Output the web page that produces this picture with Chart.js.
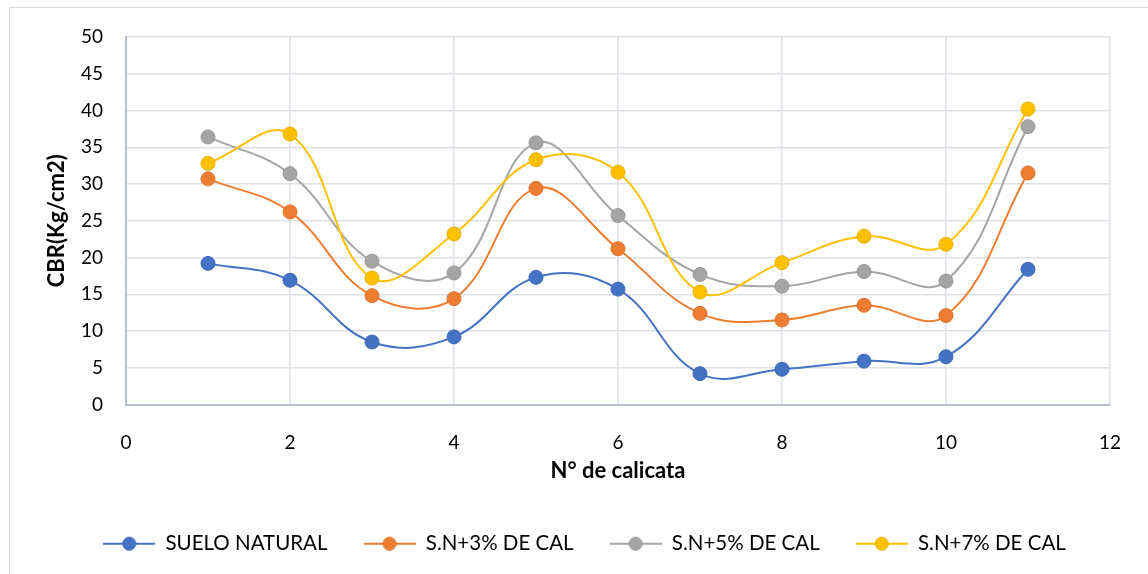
<!DOCTYPE html>
<html>
<head>
<meta charset="utf-8">
<script src="https://cdn.jsdelivr.net/npm/chart.js@4.4.1/dist/chart.umd.min.js"></script>
<style>
  html, body { margin: 0; padding: 0; background: #ffffff; }
  #wrap { width: 1148px; height: 574px; position: relative; }
</style>
</head>
<body>
<div id="wrap"><canvas id="c" width="1148" height="574"></canvas></div>
<script>
// N° de calicata
const calicatas = [1, 2, 3, 4, 5, 6, 7, 8, 9, 10, 11];

// CBR (Kg/cm2) per mixture
const sueloNatural = [19.2, 16.9, 8.5, 9.2, 17.3, 15.7, 4.2, 4.8, 5.9, 6.5, 18.4];
const sn3Cal       = [30.7, 26.2, 14.8, 14.4, 29.4, 21.2, 12.4, 11.5, 13.5, 12.1, 31.5];
const sn5Cal       = [36.4, 31.4, 19.5, 17.9, 35.6, 25.7, 17.7, 16.1, 18.1, 16.8, 37.8];
const sn7Cal       = [32.8, 36.8, 17.2, 23.2, 33.3, 31.6, 15.3, 19.3, 22.9, 21.8, 40.2];

const seriesNames  = ['SUELO NATURAL', 'S.N+3% DE CAL', 'S.N+5% DE CAL', 'S.N+7% DE CAL'];
const seriesValues = [sueloNatural, sn3Cal, sn5Cal, sn7Cal];
const seriesColors = ['#4472C4', '#ED7D31', '#A5A5A5', '#FFC000'];
const seriesBorders = ['#3F69B5', '#DB732D', '#989898', '#EBB100'];

const xTicks = [0, 2, 4, 6, 8, 10, 12];
const yTicks = [0, 5, 10, 15, 20, 25, 30, 35, 40, 45, 50];

const FONT = 'Lato, "Open Sans", sans-serif';

// legend swatch: short line with a marker in the middle
function legendSwatch(color, border) {
  const cv = document.createElement('canvas');
  cv.width = 52; cv.height = 16;
  const g = cv.getContext('2d');
  g.strokeStyle = color; g.lineWidth = 2;
  g.beginPath(); g.moveTo(0, 8); g.lineTo(52, 8); g.stroke();
  g.fillStyle = color; g.strokeStyle = border; g.lineWidth = 1;
  g.beginPath(); g.arc(26, 8, 6.5, 0, Math.PI * 2); g.fill(); g.stroke();
  return cv;
}

const datasets = seriesNames.map((name, i) => ({
  label: name,
  data: calicatas.map((x, k) => ({ x: x, y: seriesValues[i][k] })),
  showLine: true,
  borderColor: seriesColors[i],
  backgroundColor: seriesColors[i],
  borderWidth: 2,
  pointRadius: 7,
  pointHoverRadius: 7,
  pointBackgroundColor: seriesColors[i],
  pointBorderColor: seriesBorders[i],
  pointBorderWidth: 1,
  pointStyle: 'circle',
  tension: 0.4,
  order: seriesNames.length - i,
  legendSwatch: legendSwatch(seriesColors[i], seriesBorders[i])
}));

// light frame around the chart object
const framePlugin = {
  id: 'frame',
  beforeDraw(chart) {
    const ctx = chart.ctx;
    ctx.save();
    ctx.fillStyle = '#ffffff';
    ctx.fillRect(0, 0, chart.width, chart.height);
    ctx.strokeStyle = '#d9d9d9';
    ctx.lineWidth = 1;
    ctx.strokeRect(9.5, 7.5, 1300, 700);
    ctx.restore();
  }
};

new Chart(document.getElementById('c'), {
  type: 'scatter',
  data: { datasets: datasets },
  plugins: [framePlugin],
  options: {
    responsive: false,
    animation: false,
    events: [],
    layout: { padding: { left: 21, right: 0, top: 37, bottom: 10 } },
    plugins: {
      tooltip: { enabled: false },
      legend: {
        position: 'bottom',
        labels: {
          usePointStyle: true,
          pointStyleWidth: 52,
          padding: 36,
          color: '#000000',
          font: { family: FONT, size: 20.5 },
          sort: (a, b) => a.datasetIndex - b.datasetIndex,
          generateLabels(chart) {
            return chart.data.datasets.map((ds, i) => ({
              text: ds.label,
              datasetIndex: i,
              fillStyle: ds.backgroundColor,
              strokeStyle: ds.borderColor,
              lineWidth: 0,
              pointStyle: ds.legendSwatch,
              hidden: false,
              fontColor: '#000000'
            }));
          }
        }
      }
    },
    scales: {
      x: {
        type: 'linear',
        position: 'bottom',
        min: 0, max: 12,
        afterBuildTicks(scale) { scale.ticks = xTicks.map(v => ({ value: v })); },
        afterFit(scale) { scale.height = 93; },
        grid: { color: '#dde1e8', lineWidth: 1.5, drawTicks: false },
        border: { color: '#b7bfcd', width: 2 },
        ticks: { color: '#000000', padding: 27, font: { family: FONT, size: 19 } },
        title: {
          display: true,
          text: 'N° de calicata',
          color: '#000000',
          font: { family: FONT, size: 22, weight: 'bold' },
          padding: { top: 0, bottom: 13 }
        }
      },
      y: {
        type: 'linear',
        position: 'left',
        min: 0, max: 50,
        afterBuildTicks(scale) { scale.ticks = yTicks.map(v => ({ value: v })); },
        afterFit(scale) { scale.width = 105; },
        grid: { color: '#dde1e8', lineWidth: 1.5, drawTicks: false },
        border: { color: '#b7bfcd', width: 2 },
        ticks: { color: '#000000', padding: 23, font: { family: FONT, size: 19 } },
        title: {
          display: true,
          text: 'CBR(Kg/cm2)',
          color: '#000000',
          font: { family: FONT, size: 22, weight: 'bold' },
          padding: { top: 23, bottom: 0 }
        }
      },
      yRight: {
        type: 'linear',
        position: 'right',
        min: 0, max: 50,
        display: true,
        afterFit(scale) { scale.width = 38; },
        grid: { display: false, drawTicks: false },
        border: { display: false },
        ticks: { display: false }
      }
    }
  }
});
</script>
</body>
</html>
